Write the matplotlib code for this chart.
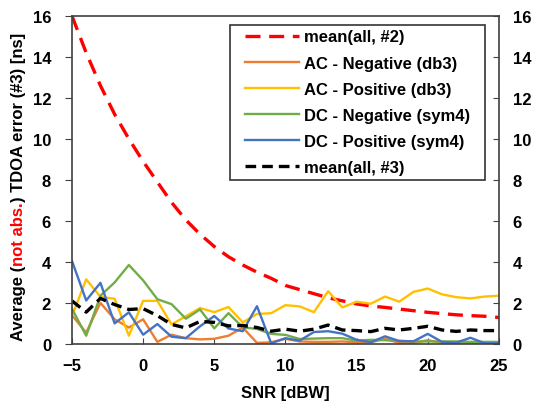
import numpy as np
import matplotlib
matplotlib.use("Agg")
import matplotlib.pyplot as plt
from matplotlib.patches import Rectangle
from matplotlib.transforms import IdentityTransform

plt.rcParams['font.family'] = ['Liberation Sans', 'DejaVu Sans']
plt.rcParams['font.weight'] = 'bold'
plt.rcParams['font.size'] = 12

# SNR sweep [dBW]
snr = np.arange(-5, 26)

mean_all_2 = [16.0, 14.2, 12.6, 11.2, 10.0, 8.9, 7.9, 6.9, 6.05, 5.35, 4.75,
              4.25, 3.85, 3.5, 3.2, 2.85, 2.65, 2.45, 2.25, 2.1, 1.95, 1.85,
              1.78, 1.7, 1.62, 1.54, 1.48, 1.42, 1.38, 1.35, 1.29]
ac_neg = [1.4, 0.55, 2.0, 1.2, 0.8, 1.2, 0.1, 0.45, 0.28, 0.22, 0.25, 0.4,
          0.8, 0.05, 0.08, 0.25, 0.12, 0.1, 0.1, 0.12, 0.08, 0.08, 0.25, 0.05,
          0.05, 0.18, 0.05, 0.03, 0.03, 0.02, 0.03]
ac_pos = [1.35, 3.15, 2.3, 2.2, 0.4, 2.1, 2.1, 0.95, 1.35, 1.75, 1.55, 1.8,
          1.05, 1.46, 1.5, 1.89, 1.83, 1.55, 2.57, 1.78, 2.06, 1.96, 2.31,
          2.06, 2.54, 2.7, 2.42, 2.28, 2.22, 2.31, 2.35]
dc_neg = [1.72, 0.4, 2.35, 3.0, 3.85, 3.1, 2.18, 1.94, 1.23, 1.68, 0.76, 1.5,
          0.81, 0.73, 0.49, 0.44, 0.24, 0.26, 0.28, 0.28, 0.16, 0.2, 0.18,
          0.15, 0.12, 0.12, 0.12, 0.12, 0.1, 0.1, 0.1]
dc_pos = [4.05, 2.12, 2.98, 1.0, 1.54, 0.45, 0.97, 0.35, 0.28, 0.86, 1.36,
          0.75, 0.62, 1.84, 0.03, 0.28, 0.16, 0.58, 0.62, 0.5, 0.2, 0.08,
          0.37, 0.14, 0.13, 0.49, 0.1, 0.06, 0.3, 0.03, 0.03]
mean_all_3 = [2.1, 1.55, 2.22, 1.92, 1.68, 1.72, 1.38, 0.95, 0.78, 1.1, 1.05,
              0.88, 0.9, 0.8, 0.62, 0.72, 0.62, 0.72, 0.92, 0.68, 0.65, 0.6,
              0.76, 0.68, 0.76, 0.86, 0.68, 0.61, 0.68, 0.65, 0.65]

fig = plt.figure(figsize=(5.33, 4.02), dpi=100)
ax = fig.add_axes([0.135, 0.142, 0.801, 0.816])

ax.plot(snr, mean_all_2, color='#FF0000', lw=2.4, dashes=(4.5, 2.6),
        label='mean(all, #2)')
ax.plot(snr, ac_neg, color='#ED7D31', lw=1.7, label='AC - Negative (db3)')
ax.plot(snr, ac_pos, color='#FFC000', lw=1.7, label='AC - Positive (db3)')
ax.plot(snr, dc_neg, color='#70AD47', lw=1.7, label='DC - Negative (sym4)')
ax.plot(snr, dc_pos, color='#4472C4', lw=1.7, label='DC - Positive (sym4)')
ax.plot(snr, mean_all_3, color='black', lw=2.4, dashes=(3.2, 1.8),
        label='mean(all, #3)')

ax.set_xlim(-5, 25)
ax.set_ylim(0, 16)
ax.set_xticks(range(-5, 26, 5))
ax.set_yticks(range(0, 17, 2))
ax.tick_params(axis='x', direction='in', length=4, colors='#404040',
               labelcolor='black', pad=10)
ax.tick_params(axis='y', direction='out', length=5, colors='#404040',
               labelcolor='black', pad=10)
for sp in ax.spines.values():
    sp.set_color('#404040')
    sp.set_linewidth(1.2)

ax2 = ax.twinx()
ax2.set_ylim(0, 16)
ax2.set_yticks(range(0, 17, 2))
ax2.tick_params(axis='y', direction='in', length=4, colors='#404040',
                labelcolor='black', pad=10)
for sp in ax2.spines.values():
    sp.set_visible(False)

ax.set_xlabel('SNR [dBW]', fontweight='bold', labelpad=9)

# legend without its own frame; a wider box is drawn behind it below
leg = ax.legend(loc='upper right', bbox_to_anchor=(0.944, 0.973),
                frameon=False, handlelength=3.25, labelspacing=0.67,
                borderpad=0.28, handletextpad=0.3, borderaxespad=0)

# y label with the red "not abs." part
t1 = fig.text(0.034, 0.152, 'Average (', rotation=90, ha='center',
              va='bottom', fontweight='bold')
t2 = ax.annotate('not abs.', xy=(0.5, 1.0), xycoords=t1, rotation=90,
                 ha='center', va='bottom', color='#FF0000', fontweight='bold')
t3 = ax.annotate(') TDOA error (#3) [ns]', xy=(0.5, 1.0), xycoords=t2,
                 rotation=90, ha='center', va='bottom', fontweight='bold')

fig.canvas.draw()
bb = leg.get_window_extent()
side = 10
box = Rectangle((bb.x0 - side, bb.y0), bb.width + 2 * side, bb.height,
                transform=IdentityTransform(), facecolor='white',
                edgecolor='#333333', linewidth=1.2, zorder=4.5,
                clip_on=False)
ax.add_patch(box)

fig.savefig('out.png', dpi=100)
